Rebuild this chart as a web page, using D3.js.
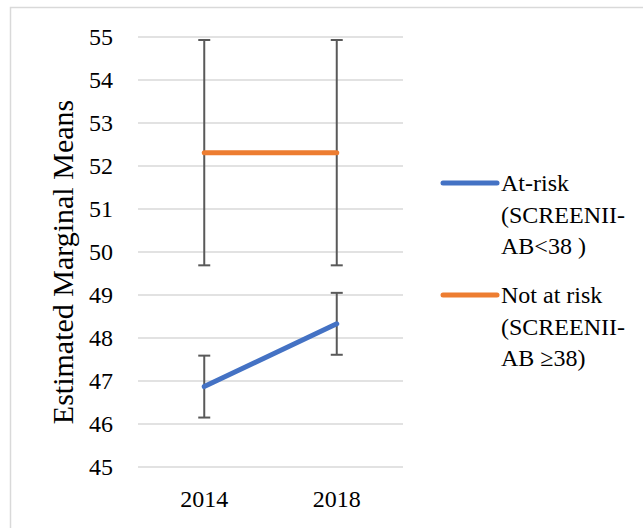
<!DOCTYPE html>
<html>
<head>
<meta charset="utf-8">
<script src="https://cdn.jsdelivr.net/npm/d3@7"></script>
<style>
  html, body { margin: 0; padding: 0; background: #fff; }
  svg { display: block; }
  svg text { font-family: "Liberation Serif", "Times New Roman", serif !important; fill: #000; }
</style>
</head>
<body>
<svg id="chart" width="643" height="528"></svg>
<script>
// Estimated marginal means by year, with error bars
const years = ["2014", "2018"];
const yTicks = [45, 46, 47, 48, 49, 50, 51, 52, 53, 54, 55];
const seriesNames = ["At-risk", "Not at risk"];
const legendLabels = [
  ["At-risk", "(SCREENII-", "AB<38 )"],
  ["Not at risk", "(SCREENII-", "AB \u226538)"]
];
const atRiskMeans = [46.87, 48.33];
const atRiskErr = [0.72, 0.72];
const notAtRiskMeans = [52.31, 52.31];
const notAtRiskErr = [2.62, 2.62];
const colors = ["#4472C4", "#ED7D31"];

const series = [
  { name: seriesNames[0], means: atRiskMeans, err: atRiskErr, color: colors[0], legend: legendLabels[0] },
  { name: seriesNames[1], means: notAtRiskMeans, err: notAtRiskErr, color: colors[1], legend: legendLabels[1] }
];

const FONT = "'Liberation Serif', 'Times New Roman', serif";
const svg = d3.select("#chart");

// chart frame
svg.append("rect")
  .attr("x", 10.5).attr("y", 7.5)
  .attr("width", 700).attr("height", 600)
  .attr("fill", "none").attr("stroke", "#d9d9d9").attr("stroke-width", 1.5);

const x = d3.scaleBand().domain(years).range([138, 403]);
const y = d3.scaleLinear().domain([45, 55]).range([467, 37]);
const cx = d => x(d) + x.bandwidth() / 2;

// horizontal gridlines
svg.append("g").selectAll("line").data(yTicks).join("line")
  .attr("x1", 138).attr("x2", 403)
  .attr("y1", d => y(d)).attr("y2", d => y(d))
  .attr("stroke", "#d9d9d9").attr("stroke-width", 1.5);

// y axis labels
const yAxis = d3.axisLeft(y).tickValues(yTicks).tickSize(0).tickPadding(0);
const gy = svg.append("g").attr("transform", "translate(113,0)").call(yAxis)
  .attr("font-family", null).attr("font-size", null);
gy.select(".domain").remove();
gy.selectAll("text").style("font-family", FONT).style("font-size", "24px").attr("fill", "#000");

// x axis labels
const xAxis = d3.axisBottom(x).tickSize(0).tickPadding(0);
const gx = svg.append("g").attr("transform", "translate(0,490)").call(xAxis)
  .attr("font-family", null).attr("font-size", null);
gx.select(".domain").remove();
gx.selectAll("text").style("font-family", FONT).style("font-size", "24px").attr("fill", "#000");

// y axis title
svg.append("text")
  .attr("transform", "translate(73,262) rotate(-90)")
  .attr("text-anchor", "middle")
  .style("font-family", FONT)
  .style("font-size", "30px")
  .text("Estimated Marginal Means");

// error bars
const capHalf = 6;
series.forEach(s => {
  const g = svg.append("g");
  years.forEach((yr, i) => {
    const xc = cx(yr);
    const lo = y(s.means[i] - s.err[i]);
    const hi = y(s.means[i] + s.err[i]);
    g.append("line").attr("x1", xc).attr("x2", xc).attr("y1", hi).attr("y2", lo)
      .attr("stroke", "#595959").attr("stroke-width", 2);
    [hi, lo].forEach(v => g.append("line")
      .attr("x1", xc - capHalf).attr("x2", xc + capHalf).attr("y1", v).attr("y2", v)
      .attr("stroke", "#595959").attr("stroke-width", 2));
  });
});

// series lines
const line = d3.line().x(d => cx(d.year)).y(d => y(d.value));
series.forEach(s => {
  svg.append("path")
    .datum(years.map((yr, i) => ({ year: yr, value: s.means[i] })))
    .attr("d", line)
    .attr("fill", "none")
    .attr("stroke", s.color)
    .attr("stroke-width", 5)
    .attr("stroke-linecap", "round");
});

// legend
const legendY = [183, 295];
series.forEach((s, i) => {
  const g = svg.append("g");
  g.append("line")
    .attr("x1", 443).attr("x2", 497)
    .attr("y1", legendY[i]).attr("y2", legendY[i])
    .attr("stroke", s.color).attr("stroke-width", 5).attr("stroke-linecap", "round");
  s.legend.forEach((t, j) => {
    g.append("text")
      .attr("x", 501)
      .attr("y", legendY[i] + 8 + j * 31.5)
      .style("font-family", FONT)
      .style("font-size", "24px")
      .text(t);
  });
});
</script>
</body>
</html>
